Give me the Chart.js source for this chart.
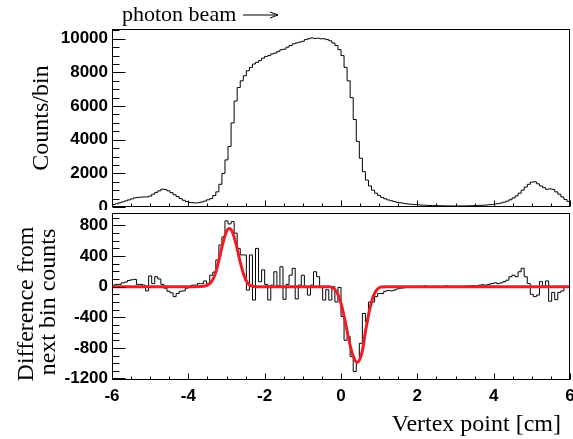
<!DOCTYPE html>
<html>
<head>
<meta charset="utf-8">
<script src="https://cdn.jsdelivr.net/npm/chart.js"></script>
<style>
  html, body { margin: 0; padding: 0; background: #fff; }
  #wrap { position: relative; width: 573px; height: 439px; overflow: hidden; }
  canvas { position: absolute; left: 0; }
  #top { top: 0; }
  #bottom { top: 207px; }
</style>
</head>
<body>
<div id="wrap">
  <canvas id="top" width="573" height="210"></canvas>
  <canvas id="bottom" width="573" height="232"></canvas>
</div>
<script>
// binning of both histograms: 150 bins from -6 to 6 cm
const X_MIN = -6;
const X_MAX = 6;
const BIN_WIDTH = 0.08;

// upper panel: counts per bin
const countsPerBin = [
  150, 190, 250, 300, 360, 420, 480, 540, 570, 580,
  600, 600, 650, 760, 870, 960, 1060, 1040, 960, 850,
  730, 620, 500, 400, 320, 270, 250, 240, 260, 300,
  350, 430, 500, 680, 900, 1350, 2000, 2800, 3600, 5000,
  6300, 7100, 7500, 7800, 8100, 8300, 8500, 8600, 8700, 8850,
  8950, 9000, 9100, 9150, 9250, 9350, 9380, 9500, 9600, 9700,
  9750, 9800, 9850, 9950, 10000, 10050, 10020, 10030, 10000, 10000,
  9950, 9880, 9750, 9600, 9350, 9000, 8300, 7500, 6500, 5200,
  3900, 2900, 2100, 1600, 1250, 1000, 820, 680, 570, 490,
  420, 370, 320, 280, 250, 220, 190, 170, 155, 140,
  130, 115, 105, 95, 90, 85, 80, 75, 70, 65,
  65, 60, 60, 60, 65, 65, 70, 75, 80, 85,
  95, 105, 115, 130, 150, 175, 200, 240, 290, 350,
  430, 540, 660, 820, 1000, 1180, 1350, 1480, 1500, 1380,
  1250, 1150, 1050, 1080, 1050, 900, 760, 600, 450, 330
];

// lower panel: difference from next bin counts
const diffPerBin = [
  20, 30, 30, 50, 60, 80, 90, 95, 30, 30,
  20, -55, 140, 40, 130, 100, 30, -20, -60, -80,
  -130, -90, -60, -55, -20, 0, 20, 20, 40, 40,
  75, 30, 150, 190, 350, 545, 650, 860, 820, 850,
  700, 500, 415, 415, -45, 415, -175, 500, 65, 220,
  30, -175, 20, 195, 10, 260, -165, 30, 150, 240,
  -160, 20, 150, 0, -110, 20, 195, 130, 0, -175,
  -40, -175, 0, -200, -10, -390, -700, -650, -915, -1110,
  -980, -740, -350, -460, -200, -200, -130, -90, -90, -60,
  -50, -55, -45, -30, -20, -15, -10, -5, -8, 0,
  -5, 0, 10, -3, 0, 5, 0, -5, 0, 10,
  0, 0, 5, 0, 0, 5, 10, 10, 15, 10,
  20, 25, 20, 30, 40, 50, 40, 50, 65, 85,
  130, 150, 130, 195, 240, 130, 40, -100, -130, -110,
  65, 0, 75, -190, -75, -170, -75, -55, -10, 0
];

// red fit curve, sampled off the plot
const fitX = [-6, -3.8, -3.6, -3.5, -3.4, -3.3, -3.2, -3.1, -3.0, -2.93, -2.85, -2.75, -2.65, -2.55, -2.45, -2.35, -2.2,
              -0.3, -0.2, -0.1, 0.0, 0.1, 0.2, 0.3, 0.43, 0.55, 0.65, 0.75, 0.85, 0.95, 1.05, 1.2, 6];
const fitY = [0, 0, 5, 20, 60, 160, 340, 560, 720, 760, 720, 560, 340, 160, 50, 10, 0,
              0, -20, -80, -220, -430, -680, -880, -990, -860, -560, -300, -120, -35, -5, 0, 0];

const xTicks = [-6, -4, -2, 0, 2, 4, 6];
const topYTicks = [0, 2000, 4000, 6000, 8000, 10000];
const bottomYTicks = [-1200, -800, -400, 0, 400, 800];

function histPoints(values) {
  const pts = values.map((v, i) => ({ x: X_MIN + i * BIN_WIDTH, y: v }));
  pts.push({ x: X_MAX, y: values[values.length - 1] });
  return pts;
}

const tickFont = { family: "'Liberation Sans', Arial, sans-serif", size: 17, weight: 'bold' };
const serif = "'Liberation Serif', 'Times New Roman', serif";

// ROOT style frame with inward tick marks
function rootFrame(spec) {
  return {
    id: 'rootFrame',
    afterDraw(chart) {
      const { ctx, chartArea: a, scales } = chart;
      ctx.save();
      ctx.strokeStyle = '#000';
      ctx.lineWidth = 1;
      const l = Math.round(a.left) + 0.5, t = Math.round(a.top) + 0.5;
      const r = Math.round(a.right) - 0.5, b = Math.round(a.bottom) - 0.5;
      ctx.strokeRect(l, t, r - l, b - t);

      const drawTicks = (scale, s, horizontal) => {
        const n0 = Math.ceil(scale.min / s.minor - 1e-9);
        const n1 = Math.floor(scale.max / s.minor + 1e-9);
        ctx.beginPath();
        for (let n = n0; n <= n1; n++) {
          const v = n * s.minor;
          const q = v / s.major;
          const len = Math.abs(q - Math.round(q)) < 1e-6 ? s.majorLen : s.minorLen;
          const p = Math.round(scale.getPixelForValue(v)) + 0.5;
          if (horizontal) {
            ctx.moveTo(p, b);
            ctx.lineTo(p, b - len);
          } else {
            ctx.moveTo(l, p);
            ctx.lineTo(l + len, p);
          }
        }
        ctx.stroke();
      };
      drawTicks(scales.x, spec.x, true);
      drawTicks(scales.y, spec.y, false);
      ctx.restore();
    }
  };
}

// free text (axis titles, beam label)
function freeText(items, arrow) {
  return {
    id: 'freeText',
    afterDraw(chart) {
      const { ctx } = chart;
      ctx.save();
      ctx.fillStyle = '#000';
      items.forEach((it) => {
        ctx.save();
        ctx.translate(it.x, it.y);
        if (it.rotate) ctx.rotate(it.rotate);
        ctx.font = it.font;
        ctx.textAlign = it.align || 'center';
        ctx.textBaseline = 'alphabetic';
        ctx.fillText(it.text, 0, 0);
        ctx.restore();
      });
      if (arrow) {
        ctx.strokeStyle = '#000';
        ctx.lineWidth = 1;
        ctx.beginPath();
        ctx.moveTo(arrow.x1, arrow.y);
        ctx.lineTo(arrow.x2, arrow.y);
        ctx.moveTo(arrow.x2 - 8, arrow.y - 3);
        ctx.lineTo(arrow.x2, arrow.y);
        ctx.lineTo(arrow.x2 - 8, arrow.y + 3);
        ctx.stroke();
      }
      ctx.restore();
    }
  };
}

function fixTicks(values) {
  return (scale) => { scale.ticks = values.map((v) => ({ value: v })); };
}

// keep the plot frame where we put it: no room reserved for label overflow
function fitWidth(w) {
  return (scale) => {
    scale.width = w;
    scale.paddingTop = 0; scale.paddingBottom = 0;
  };
}
function fitHeight(h) {
  return (scale) => {
    scale.height = h;
    scale.paddingLeft = 0; scale.paddingRight = 0;
  };
}

const plainLabel = (v) => String(v);

new Chart(document.getElementById('top'), {
  type: 'line',
  data: {
    datasets: [{
      data: histPoints(countsPerBin),
      borderColor: '#000',
      borderWidth: 1,
      pointRadius: 0,
      stepped: true,
      fill: false,
    }],
  },
  options: {
    responsive: false,
    devicePixelRatio: 1,
    animation: false,
    layout: { padding: { top: 29, right: 3, bottom: 3, left: 0 } },
    plugins: {
      legend: { display: false },
      tooltip: { enabled: false },
    },
    scales: {
      x: {
        type: 'linear', min: X_MIN, max: X_MAX, display: false,
      },
      y: {
        type: 'linear', min: 0, max: 10580,
        afterBuildTicks: fixTicks(topYTicks),
        afterFit: fitWidth(112),
        grid: { display: false, drawTicks: false },
        border: { display: false },
        ticks: { font: tickFont, color: '#000', padding: 4, callback: plainLabel },
      },
    },
  },
  plugins: [
    rootFrame({
      x: { major: 2, minor: 0.5, majorLen: 6, minorLen: 3 },
      y: { major: 2000, minor: 500, majorLen: 13, minorLen: 7 },
    }),
    freeText([
      { text: 'photon beam', x: 122, y: 21, align: 'left', font: `22px ${serif}` },
      { text: 'Counts/bin', x: 48, y: 118, rotate: -Math.PI / 2, font: `24px ${serif}` },
    ], { x1: 243, x2: 278, y: 15 }),
  ],
});

new Chart(document.getElementById('bottom'), {
  type: 'line',
  data: {
    datasets: [
      {
        data: fitX.map((x, i) => ({ x, y: fitY[i] })),
        borderColor: 'rgb(236,30,36)',
        borderWidth: 3,
        pointRadius: 0,
        cubicInterpolationMode: 'monotone',
        fill: false,
        order: 0,
      },
      {
        data: histPoints(diffPerBin),
        borderColor: '#000',
        borderWidth: 1,
        pointRadius: 0,
        stepped: true,
        fill: false,
        order: 1,
      },
    ],
  },
  options: {
    responsive: false,
    devicePixelRatio: 1,
    animation: false,
    layout: { padding: { top: 6, right: 3, bottom: 0, left: 0 } },
    plugins: {
      legend: { display: false },
      tooltip: { enabled: false },
    },
    scales: {
      x: {
        type: 'linear', min: X_MIN, max: X_MAX,
        afterBuildTicks: fixTicks(xTicks),
        afterFit: fitHeight(59),
        grid: { display: false, drawTicks: false },
        border: { display: false },
        ticks: { font: tickFont, color: '#000', padding: 6, autoSkip: false, maxRotation: 0, callback: plainLabel },
      },
      y: {
        type: 'linear', min: -1220, max: 963,
        afterBuildTicks: fixTicks(bottomYTicks),
        afterFit: fitWidth(112),
        grid: { display: false, drawTicks: false },
        border: { display: false },
        ticks: { font: tickFont, color: '#000', padding: 4, callback: plainLabel },
      },
    },
  },
  plugins: [
    rootFrame({
      x: { major: 2, minor: 0.5, majorLen: 6, minorLen: 3 },
      y: { major: 400, minor: 100, majorLen: 13, minorLen: 7 },
    }),
    freeText([
      { text: 'Difference from', x: 33, y: 97, rotate: -Math.PI / 2, font: `24px ${serif}` },
      { text: 'next bin counts', x: 55, y: 95, rotate: -Math.PI / 2, font: `24px ${serif}` },
      { text: 'Vertex point [cm]', x: 561, y: 224, align: 'right', font: `24px ${serif}` },
    ]),
  ],
});
</script>
</body>
</html>
